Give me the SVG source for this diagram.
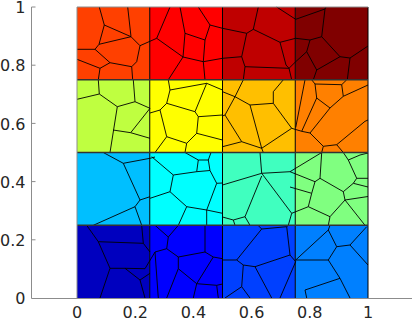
<svg xmlns="http://www.w3.org/2000/svg" width="415" height="321" viewBox="0 0 415 321">
<style>
.ax{stroke:#8c8c8c;stroke-width:1;fill:none}
.lbl{font-family:"DejaVu Sans",sans-serif;font-size:16px;fill:#262626}
.vor{stroke:#000;stroke-width:0.9;fill:none;stroke-linejoin:round}
.grid{stroke:#000;stroke-width:1;fill:none}
.hgrid{stroke:#333;stroke-width:1.4;fill:none}
</style>
<rect width="415" height="321" fill="#fff"/>
<g id="cells">
<rect id="c11" x="77" y="7" width="72.75" height="72.75" fill="#FF4000"/>
<rect id="c12" x="149.75" y="7" width="72.75" height="72.75" fill="#FF0000"/>
<rect id="c13" x="222.5" y="7" width="72.75" height="72.75" fill="#BF0000"/>
<rect id="c14" x="295.25" y="7" width="72.75" height="72.75" fill="#800000"/>
<rect id="c21" x="77" y="79.75" width="72.75" height="72.75" fill="#BFFF40"/>
<rect id="c22" x="149.75" y="79.75" width="72.75" height="72.75" fill="#FFFF00"/>
<rect id="c23" x="222.5" y="79.75" width="72.75" height="72.75" fill="#FFBF00"/>
<rect id="c24" x="295.25" y="79.75" width="72.75" height="72.75" fill="#FF8000"/>
<rect id="c31" x="77" y="152.5" width="72.75" height="72.75" fill="#00BFFF"/>
<rect id="c32" x="149.75" y="152.5" width="72.75" height="72.75" fill="#00FFFF"/>
<rect id="c33" x="222.5" y="152.5" width="72.75" height="72.75" fill="#40FFBF"/>
<rect id="c34" x="295.25" y="152.5" width="72.75" height="72.75" fill="#80FF80"/>
<rect id="c41" x="77" y="225.25" width="72.75" height="72.75" fill="#0000BF"/>
<rect id="c42" x="149.75" y="225.25" width="72.75" height="72.75" fill="#0000FF"/>
<rect id="c43" x="222.5" y="225.25" width="72.75" height="72.75" fill="#0040FF"/>
<rect id="c44" x="295.25" y="225.25" width="72.75" height="72.75" fill="#0080FF"/>
</g>
<g id="voronoi" class="vor">
<path d="M99.3 7 L104.3 25 L99 44.3 L95 49.3 L77 49.3 M104.3 25 L131 36.7 M99 44.3 L131 36.7 M127.7 7 L131 36.7 L140 45.7 L156.7 38.3 M140 45.7 L136.7 61.7 L131.7 66.7 L110 62.7 L95 49.3 M110 62.7 L100 68.3 L77 59.3 M100 68.3 L98.3 79.8 M131.7 66.7 L132.7 79.8"/>
<path d="M156.7 38.3 L170 7 M156.7 38.3 L183 57 L168.3 79.8 M183 57 L203.3 61.7 L205 79.8 M203.3 61.7 L222.5 58.3 M180 7 L185 33.3 L183 57 M185 33.3 L205 40 L203.3 61.7 M205 40 L210 25 L198.3 7 M210 25 L222.5 28.3"/>
<path d="M258.3 7 L253.3 29.3 L246.7 33.3 L222.5 28.3 M253.3 29.3 L280 42.3 L295.7 38.3 L310 40 M280 42.3 L286 65 L289 68.3 M246.7 33.3 L241.7 56.7 L222.5 58.3 M241.7 56.7 L245 66.7 L289 68.3 M245 66.7 L243.3 79.8 M289 68.3 L291.7 79.8 M289 68.3 L295.7 61.7 M276.7 7 L295.7 19.3"/>
<path d="M295.7 19.3 L325 9 L326 7 M325 9 L321.7 36.7 L310 40 M321.7 36.7 L340 56.7 L350 58 L368 46 M350 58 L347.3 79.8 M310 40 L306.7 51.7 L295.7 61.7 M306.7 51.7 L316.7 70 L340 56.7 M316.7 70 L313.3 79.8"/>
<path d="M98.3 79.8 L99.3 94 L77 99.3 M99.3 94 L117.3 106.7 L135 101.7 L133.3 79.8 M135 101.7 L150 108.3 M117.3 106.7 L110 152.5 M150 108.3 L130.7 132.7 L150 138.3 M130.7 132.7 L113 130"/>
<path d="M168.3 79.8 L170 90 L206.7 83.3 L222.5 90 M170 90 L166.7 103.3 L160 110 L150 113 M166.7 103.3 L195 111.7 L206.7 83.3 M195 111.7 L198.3 116.7 L222.5 115 M198.3 116.7 L196.7 133.3 L186.7 143.3 L166.7 136.7 L160 110 M186.7 143.3 L185 152.5 M196.7 133.3 L222.5 140 M166.7 136.7 L155 152.5"/>
<path d="M243.3 79.8 L235 96.7 L222.5 91.7 M235 96.7 L225 115 L222.5 116 M225 115 L241.7 141.7 L222.5 146.7 M241.7 141.7 L261.7 148.3 L263.3 152.5 M261.7 148.3 L291.7 128.3 M235 96.7 L250 105 L273.3 103.3 L273.3 91.7 L283.3 79.8 M250 105 L261.7 148.3 M273.3 103.3 L291.7 128.3 L301.7 131.3"/>
<path d="M305 79.8 L295.7 127.5 M311.7 79.8 L315 84 L316.7 98 L301.7 131.3 M316.7 98 L330 108 L310 133 L301.7 131.3 M310 133 L323.3 146.3 L336.7 144.7 L365 121.3 L368 120 M336.7 144.7 L343.3 152.5 M323.3 146.3 L321.7 152.5 M330 108 L343.3 96.3 L341.7 84.7 L346.7 79.8 M341.7 84.7 L315 84 M343.3 96.3 L368 85"/>
<path d="M103.3 152.5 L123.3 163.3 L150 158.3 L155 157 M123.3 163.3 L140 200 L150 196.7 M140 200 L135 206.7 L93.3 225.3 M135 206.7 L141.7 225.3 L143.3 243.3"/>
<path d="M151.7 156.7 L173.3 175 L170 191.7 L150 198.3 M173.3 175 L196.7 171.7 L198.3 160 L208.3 160 L211 152.5 M198.3 160 L185 152.5 M208.3 160 L210 170.5 L196.7 171.7 M210 170.5 L216.7 183.3 L222.5 183 M170 191.7 L186.7 206.7 L206.7 210 L216.7 183.3 M206.7 210 L206.7 225.3 M186.7 206.7 L178.3 225.3 M206.7 210 L222.5 213.3"/>
<path d="M260 152.5 L261.7 173.3 L222.5 185 M261.7 173.3 L290 171.7 M261.7 173.3 L291.7 213.3 L288.3 225.3 M261.7 176 L245 216.7 L233.3 220 L222.5 217 M233.3 220 L235 225.3 M245 216.7 L250 225.3"/>
<path d="M290 171.7 L321.7 152.5 M290 171.7 L315 181.7 L320 178.3 L321.7 152.5 M320 178.3 L343.3 191.7 L345 200 M315 181.7 L311.7 193.3 L290 187 M311.7 193.3 L308.3 206.7 L291.7 213.3 M308.3 206.7 L330 216.7 L328.3 225.3 M330 216.7 L345 200 L368 196.5 M345 200 L365 225.3 M343.3 191.7 L353.3 183.3 L368 187 M353.3 183.3 L356.7 178.3 L368 178.3 M356.7 178.3 L348.3 160 L343.3 152.5 M348.3 160 L360 155 L368 153"/>
<path d="M86.7 225.3 L98.3 241.7 L110 268.3 L125 268.3 M110 268.3 L100 298 M98.3 241.7 L143.3 243.3 L150 252 M125 268.3 L145 268.7 L155 252 M125 268.3 L140 280 L150 273.3 M140 280 L145 298"/>
<path d="M155 225.3 L168.3 237 L178.3 225.3 M168.3 237 L166.7 248.7 L155 252 M155 252 L158.3 298 M166.7 248.7 L178.3 257 L205 252 L205 225.3 M205 252 L213.3 257 L222.5 258.7 M213.3 257 L196.7 283.7 L216.7 285.3 L222.5 284 M216.7 285.3 L218.3 298 M178.3 257 L178.3 268.7 L196.7 283.7 L193.3 298 M178.3 268.7 L166.7 298"/>
<path d="M261.7 229 L236.7 260 L222.5 260 M261.7 229 L286.7 226.7 L288.3 225.3 M261.7 229 L258 225.3 M236.7 260 L243.3 265 L241.7 286.7 L225 298 M241.7 286.7 L250 298 M243.3 265 L255 266.7 L271.7 298 M255 266.7 L290 255 L286.7 226.7 M290 255 L295.7 261.7 L280 298"/>
<path d="M295.7 260 L328.3 230 L330 225.3 M328.3 230 L336.7 246.7 L350 245 L366.7 226.7 M350 245 L368 265 M336.7 246.7 L328.3 260 L295.7 260 M328.3 260 L340 278.3 L305 290 L306.7 298 M340 278.3 L350 298"/>
</g>
<g id="grid">
<path class="grid" d="M149.75 7 V298 M222.5 7 V298 M295.25 7 V298 M368 7 V298"/>
<path class="hgrid" d="M77 79.75 H368 M77 152.5 H368 M77 225.25 H368"/>
<path class="ax" d="M77 7 H368 M77 7 V298" stroke="#555"/>
</g>
<g id="axes">
<path class="ax" d="M31.5 7 V298.5 H412"/>
<path class="ax" d="M31.5 7 H35.5 M31.5 65.2 H35.5 M31.5 123.4 H35.5 M31.5 181.6 H35.5 M31.5 239.8 H35.5"/>
</g>
<g id="labels" class="lbl">
<text x="25.5" y="13.4" text-anchor="end">1</text>
<text x="25.5" y="71.4" text-anchor="end">0.8</text>
<text x="25.5" y="129.6" text-anchor="end">0.6</text>
<text x="25.5" y="187.8" text-anchor="end">0.4</text>
<text x="25.5" y="246" text-anchor="end">0.2</text>
<text x="25.5" y="304.2" text-anchor="end">0</text>
<text x="77" y="318" text-anchor="middle">0</text>
<text x="135.2" y="318" text-anchor="middle">0.2</text>
<text x="193.4" y="318" text-anchor="middle">0.4</text>
<text x="251.6" y="318" text-anchor="middle">0.6</text>
<text x="309.8" y="318" text-anchor="middle">0.8</text>
<text x="368" y="318" text-anchor="middle">1</text>
</g>
</svg>
